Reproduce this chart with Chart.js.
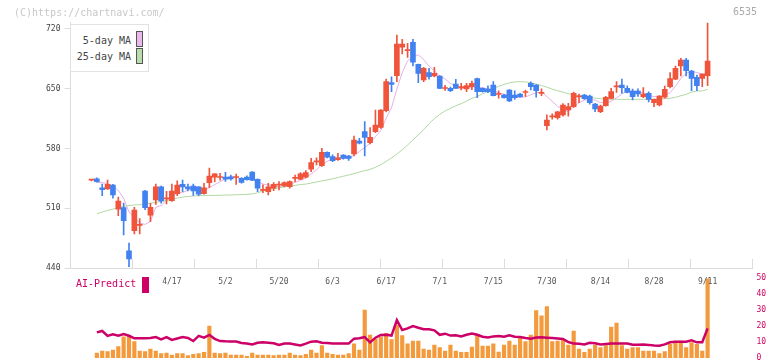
<!DOCTYPE html>
<html>
<head>
<meta charset="utf-8">
<script src="https://cdn.jsdelivr.net/npm/chart.js@4.4.1/dist/chart.umd.min.js"></script>
<style>
  body { margin: 0; background: #fff; }
  #page { position: relative; width: 772px; height: 361px; overflow: hidden; font-family: "DejaVu Sans Mono", monospace; }
  canvas { position: absolute; left: 0; }
  #price { top: 0; }
  #vol { top: 259px; }
  .txt { position: absolute; white-space: pre; font-size: 10px; line-height: 12px; }
  #copy { left: 14px; top: 7px; color: #c8c8c8; }
  #code { left: 733px; top: 6px; color: #aaa; }
  #legend { position: absolute; left: 70px; top: 24px; width: 77px; height: 46px; border: 1px solid #e2e2e2; background: #fff; }
  .lg { position: absolute; right: 17px; font-size: 10px; line-height: 12px; color: #444; }
  .sw { position: absolute; left: 65px; width: 5px; height: 14px; border: 1px solid #555; }
  #aiTxt { left: 76px; top: 278px; color: #cc0066; font-size: 10px; }
  #aiSw { position: absolute; left: 142px; top: 277px; width: 7px; height: 16px; background: #cc0066; }
</style>
</head>
<body>
<div id="page">
  <canvas id="vol" width="772" height="110"></canvas>
  <canvas id="price" width="772" height="292"></canvas>
  <div class="txt" id="copy">(C)https://chartnavi.com/</div>
  <div class="txt" id="code">6535</div>
  <div id="legend">
    <div class="lg" style="top:10px">5-day MA</div>
    <div class="sw" style="top:6px;background:#eab8ea"></div>
    <div class="lg" style="top:26px">25-day MA</div>
    <div class="sw" style="top:23px;background:#b8dcaa"></div>
  </div>
  <div class="txt" id="aiTxt">AI-Predict</div>
  <div id="aiSw"></div>
</div>
<script>
// trading days 2025/3/27 - 9/11
const dates = [
  '3/27','3/28','3/31','4/1','4/2','4/3','4/4','4/7','4/8','4/9',
  '4/10','4/11','4/14','4/15','4/16','4/17','4/18','4/21','4/22','4/23',
  '4/24','4/25','4/28','4/30','5/1','5/2','5/7','5/8','5/9','5/12',
  '5/13','5/14','5/15','5/16','5/19','5/20','5/21','5/22','5/23','5/26',
  '5/27','5/28','5/29','5/30','6/2','6/3','6/4','6/5','6/6','6/9',
  '6/10','6/11','6/12','6/13','6/16','6/17','6/18','6/19','6/20','6/23',
  '6/24','6/25','6/26','6/27','6/30','7/1','7/2','7/3','7/4','7/7',
  '7/8','7/9','7/10','7/11','7/14','7/15','7/16','7/17','7/18','7/22',
  '7/23','7/24','7/25','7/28','7/29','7/30','7/31','8/1','8/4','8/5',
  '8/6','8/7','8/8','8/12','8/13','8/14','8/15','8/18','8/19','8/20',
  '8/21','8/22','8/25','8/26','8/27','8/28','8/29','9/1','9/2','9/3',
  '9/4','9/5','9/8','9/9','9/10','9/11'
];
const tickDates = ['4/17','5/2','5/20','6/3','6/17','7/1','7/15','7/30','8/14','8/28','9/11'];
const priceTicks = [440, 510, 580, 650, 720];
const aiTicks = [0, 10, 20, 30, 40, 50];

const open = [
  543,544.6,534,532.6,537.2,509,510.7,460,483.7,490,
  530.2,502,519.7,535,521,519,527,538,535,536.1,
  535,527,540,546.3,546,546.5,546.8,546,545,546.6,
  552.5,544,531,529.4,533.4,537,536.1,535.2,545,544,
  546.3,555.7,564.3,559.9,575.5,570.4,567,572.4,571.2,573.6,
  588.8,599.7,586.8,599.7,604.8,624.3,657.2,665.3,698.6,694.6,
  704.4,678.6,660.3,668.8,664.9,664.9,650.3,650.5,655.6,651,
  649.7,652.4,661.9,650.5,649.7,654.4,643.3,642.7,648.5,642.7,
  643.9,645.6,656.4,654.4,644.5,606.7,617.1,616.1,619.3,625.1,
  629,640.5,642.7,641.5,632.1,623.1,630.2,638.8,652.2,654.4,
  650.5,647.4,647.4,640.7,644.7,633.7,631,640,652.4,661.1,
  676.7,683.7,670.8,663.4,662.2,665.3
];
const high = [
  544,545.5,538.4,543,538,523.2,516.2,469.3,511,498,
  531,515.8,538.4,536,529.9,538.4,542,543,538.4,538.4,
  535.5,539.2,557,550.5,551,552,549,550,546,548,
  553,544.5,537.3,539.2,540,541.1,541,542,549,551.7,
  554,568.5,569,580.2,576,572.5,574.4,573,572,594.6,
  592,611.4,604.4,625.1,625.5,661.4,664.1,713,707.9,703.2,
  707.9,679,675,674,675.1,665.5,654,652,661,656.4,
  656.4,659,662.5,651,653.5,658.3,647.5,643.5,649,647.5,
  644.5,648.5,658,655,650,619.3,620.5,623.5,632.5,633,
  646,643.9,643.5,642.5,633,631,641,650.5,658.3,661.4,
  653.5,649.5,650,651.5,646.5,638,642,653.2,668.8,676.7,
  685.7,685.7,671.5,666,667.3,727
];
const low = [
  542,540.5,524.7,532,521.7,501.3,478.7,441.5,479.8,480,
  508.3,494.3,514.6,516,515,518,524.7,529.4,530.2,525,
  524.7,526.5,534,541,543,541.5,543,538,539.5,543,
  542.3,529.4,528.2,525.5,530.6,531.4,535,533.5,541,543.5,
  545.5,553,560.7,559,569,564.5,566,567.5,566,571.2,
  585.5,571.2,585.5,598.5,603.5,623,646.6,658.3,690.7,686.8,
  676.7,657.1,658.3,661.1,664,650,648,646.5,650,648.5,
  646.6,649,639.5,646,645.5,641.5,639,639,635,637.5,
  640,641,648.5,640,642,601.7,614.5,614.5,618,618,
  628,633.7,637.5,632,623.1,622,629.5,638,645.8,644.7,
  645,636.8,641,639.5,634.5,629,630,639,651,660.5,
  664.9,664.9,647.7,647.7,652.4,653.6
];
const close = [
  543,541,531.7,538,525.5,518.5,495.4,450.6,508,491,
  510.7,511,535,518.5,521.5,530,537.2,535,532.6,530.2,
  526.4,534,547.8,550.2,546.5,544.2,544.4,546.6,540.4,543.5,
  543,533.4,531.6,535.2,538,537.4,540,541.1,545.2,550.2,
  551.7,563.4,564.6,575.5,569.7,565.7,569,568.5,568.5,590,
  586.1,593.1,593.1,607.5,625.1,658.3,655.2,702.4,702.4,695,
  681,668.1,674,664.1,668.1,650.5,650.7,647.7,650.5,652.4,
  653.6,656.4,646.6,646.6,646.6,641.9,643.7,639.5,635.7,639.5,
  640.7,646,652.4,647.7,644.9,613.4,617.5,623.1,631,629,
  644.7,640.9,638.4,633.7,626.3,629.8,640,646.6,652.6,651.2,
  645.8,640.7,643.9,643.9,637.6,637.6,641.5,649.3,661.9,674,
  683.7,671.2,662.2,653.6,667.3,682.5
];
const ma5 = [
  null,540.4,540,539,535.8,530.9,521.8,505.6,499.6,492.7,
  491.1,494.3,511.1,513.2,519.3,523.2,528.4,528.4,531.3,533,
  532.3,531.6,534.2,537.7,541,544.5,546.6,546.4,544.4,543.8,
  543.6,541.4,538.4,537.3,536.2,535.1,536.4,538.3,540.3,542.8,
  545.6,550.3,555,561.1,565,567.8,568.9,569.7,568.3,572.3,
  576.4,581.2,586.2,594,601,615.4,627.8,649.7,668.7,682.7,
  687.2,689.8,684.1,676.4,671.1,665,661.5,656.2,653.5,650.4,
  651,652.1,651.9,651.1,650,647.6,645.1,643.7,641.5,640.1,
  639.8,640.3,642.9,645.3,646.3,640.9,635.2,629.3,626,622.8,
  629.1,633.7,636.8,637.3,636.8,633.8,633.6,635.3,639.1,644,
  647.2,647.4,646.8,645.1,642.4,640.7,640.9,642,645.6,652.9,
  662.1,668,670.6,668.9,667.6,667.4
];
const ma25 = [
  null,503.5,505.5,507.5,509,510.5,512,513.3,513.8,514.2,
  514.8,516,517,518,519,520,522,523,523.8,524.4,
  524.6,524.8,525,525,525.2,525.4,525.5,525.8,526,526.3,
  526.8,528,530.5,532,533,534,535,536,536.8,537.8,
  538.3,539.5,540.8,542,543.2,544.5,546,547.5,549,550.5,
  552.5,554,555.6,558,561,565,569,573.5,578.5,584,
  590,596,602,609,615,620,624,627,630,632.5,
  635.5,638.8,641,644,647,650,653,655,657,658,
  658.3,658,657,655.5,653.8,651.8,649.5,647.8,646,644.2,
  643,641.7,640.8,640,639,638.3,638,637.7,637.6,637.6,
  637.6,637.6,637.6,637.6,637.6,637.8,638.1,638.4,638.8,640,
  641.8,643.5,646,647.4,647.4,649.3
];
// lower panel
const aiBars = [
  null,3.1,4.4,4,5,7.1,13.3,14,10.2,4.4,
  4,5.6,4.4,2.7,3.1,1.9,2.7,2.7,1.5,2.3,
  2.7,3.5,20,3.1,2.7,3.1,1.9,1.9,1.9,1.1,
  3.1,1.9,1.9,1.9,1.5,1.9,1.9,3.1,1.9,1.5,
  2.3,5,3.1,7.7,3.1,2.3,1.9,1.9,2.7,8.8,
  5,30,14.4,11.9,13.3,15.4,11.5,20.6,14,8.8,
  10.6,10.6,5.6,5,8.1,6.5,4.4,8.1,4.4,3.5,
  3.5,6.9,14.8,7.5,7.5,8.8,3.7,8.1,10.6,8.1,
  12.3,10.2,14.4,29.6,26.3,32.1,10.2,10.6,11.3,8.1,
  16.9,5.6,3.5,5.6,8.1,6.5,7.7,19.4,21.9,7.7,
  5.6,6.5,6.5,4.4,4.4,4.4,2.7,4,8.5,10.6,
  10.6,6.5,9.6,8.5,4.4,49.5
];
const aiLine = [
  null,16,16.9,13.8,14.8,13.9,15,13.9,12.3,12.3,
  12.3,12.5,13.1,11.7,13.1,11.3,12.2,13.1,12.5,10.6,
  13.8,12.7,14.4,12,10.6,10.4,10.3,10.3,9.4,9,
  8.5,9.5,9.8,9.5,9.2,8.1,9,9,8.5,7.9,
  9,10.2,10.4,9.6,9.3,9,9,9,9,12.1,
  12.3,13.1,9.8,12.7,14.4,14.5,14,23.7,17.5,18.5,
  20,18.9,18,18,17.3,14.5,15.2,14,14.2,13.5,
  14.5,15.3,14.5,13.3,12.8,13.5,13.8,13.3,14.2,13.3,
  13.1,12.5,12,12.8,12.9,12.7,12.5,12.2,11.9,10,
  9,8.9,8.5,9.5,9.2,8.5,8.8,9,9,9,
  9,8.3,8.3,8.5,8.2,7.8,7.7,8.5,9.8,10.2,
  10.2,10.2,11,9.8,9.8,18.5
];

const UP = '#f0553c', DOWN = '#4282f0';
const X_MIN = -3.92, X_MAX = 123.38;
const mono = 'DejaVu Sans Mono';
const candleColor = ctx => close[ctx.dataIndex] >= open[ctx.dataIndex] ? UP : DOWN;

new Chart(document.getElementById('price'), {
  type: 'bar',
  data: {
    datasets: [
      {
        type: 'line', label: '5-day MA', order: 4,
        data: ma5.map((v, i) => ({ x: i, y: v })),
        borderColor: '#e6b0e6', borderWidth: 1, pointRadius: 0
      },
      {
        type: 'line', label: '25-day MA', order: 3,
        data: ma25.map((v, i) => ({ x: i, y: v })),
        borderColor: '#b2d8a2', borderWidth: 1, pointRadius: 0
      },
      {
        label: 'wick', order: 2, grouped: false,
        data: dates.map((d, i) => ({ x: i, y: [low[i], high[i]] })),
        backgroundColor: candleColor, barThickness: 1
      },
      {
        label: 'body', order: 1, grouped: false,
        data: dates.map((d, i) => ({ x: i, y: [open[i], close[i]] })),
        backgroundColor: candleColor, barThickness: 5, minBarLength: 1
      }
    ]
  },
  options: {
    responsive: false,
    animation: false,
    events: [],
    layout: { padding: { top: 22, right: 19.5, left: 0, bottom: 0 } },
    plugins: { legend: { display: false }, tooltip: { enabled: false } },
    scales: {
      x: {
        type: 'linear', min: X_MIN, max: X_MAX, position: 'bottom', offset: false,
        border: { display: false },
        grid: { display: false, drawTicks: false, offset: false },
        afterBuildTicks: s => { s.ticks = tickDates.map(d => ({ value: dates.indexOf(d) })); },
        afterFit: s => { s.height = 24; },
        ticks: {
          font: { family: mono, size: 8 }, color: '#555', padding: 9, maxRotation: 0,
          callback: v => dates[v]
        }
      },
      y: {
        min: 440, max: 728.2, position: 'left',
        border: { color: '#dcdcdc' },
        grid: { drawOnChartArea: false, tickLength: 6, color: '#dcdcdc' },
        afterBuildTicks: s => { s.ticks = priceTicks.map(v => ({ value: v })); },
        afterFit: s => { s.width = 70.5; },
        ticks: { font: { family: mono, size: 8 }, color: '#444', padding: 4 }
      }
    }
  }
});

new Chart(document.getElementById('vol'), {
  type: 'bar',
  data: {
    datasets: [
      {
        type: 'line', label: 'AI-Predict', order: 1, yAxisID: 'y',
        data: aiLine.map((v, i) => ({ x: i, y: v })),
        borderColor: '#cc0066', borderWidth: 2.5, pointRadius: 0
      },
      {
        label: 'bars', order: 2, yAxisID: 'y',
        data: aiBars.map((v, i) => ({ x: i, y: v })),
        backgroundColor: '#f39a3c', barThickness: 3.5
      }
    ]
  },
  options: {
    responsive: false,
    animation: false,
    events: [],
    layout: { padding: { top: 0, right: 0, left: 70.5, bottom: 11 } },
    plugins: { legend: { display: false }, tooltip: { enabled: false } },
    scales: {
      x: {
        type: 'linear', min: X_MIN, max: X_MAX, position: 'top', offset: false,
        border: { color: '#dcdcdc' },
        grid: { drawOnChartArea: false, tickLength: 9, color: '#dcdcdc', offset: false },
        afterBuildTicks: s => {
          const t = [];
          for (let k = 0; k <= 11; k++) t.push({ value: X_MIN + k * (X_MAX - X_MIN) / 11 });
          s.ticks = t;
        },
        afterFit: s => { s.height = 9; },
        ticks: { callback: () => '' }
      },
      y: {
        min: 0, max: 56.25, position: 'right',
        border: { display: false },
        grid: { display: false, drawTicks: false },
        afterBuildTicks: s => { s.ticks = aiTicks.map(v => ({ value: v })); },
        afterFit: s => { s.width = 19.5; },
        ticks: { font: { family: mono, size: 8 }, color: '#cc0066', padding: 4 }
      }
    }
  }
});
</script>
</body>
</html>
